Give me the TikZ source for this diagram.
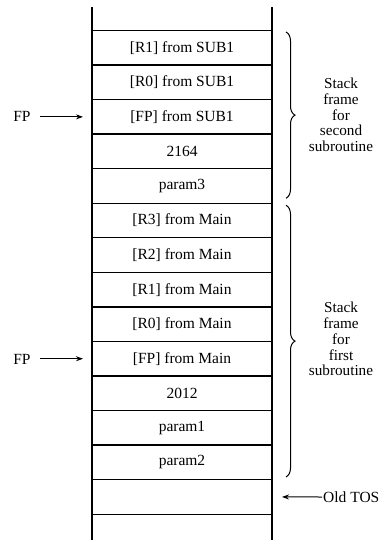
\documentclass[tikz,border=0pt]{standalone}
\usepackage{fontspec}
\setmainfont{Liberation Serif}
\usetikzlibrary{positioning,decorations.pathreplacing,arrows.meta}
\begin{document}
\begin{tikzpicture}[x=1pt,y=-1pt,
  cell/.style={draw, line width=1.4pt, minimum width=180pt, minimum height=34.55pt,
    outer sep=0pt, inner sep=0pt, font=\fontsize{15.5}{16}\selectfont},
  lbl/.style={font=\fontsize{15.5}{16}\selectfont, inner sep=1pt},
  side/.style={line width=1.6pt},
  ptr/.style={line width=1pt, -{Stealth[length=7pt,width=5pt]}},
  brc/.style={decorate, decoration={brace, amplitude=9pt}, line width=1pt},
  note/.style={font=\fontsize{15.2}{15.8}\selectfont, align=center, inner sep=0pt}]
\useasboundingbox (0,0) rectangle (382,540);

\node[cell] (c1) at (182,47.77) {[R1] from SUB1};
\node[cell, below=0pt of c1] (c2) {[R0] from SUB1};
\node[cell, below=0pt of c2] (c3) {[FP] from SUB1};
\node[cell, below=0pt of c3] (c4) {2164};
\node[cell, below=0pt of c4] (c5) {param3};
\node[cell, below=0pt of c5] (c6) {[R3] from Main};
\node[cell, below=0pt of c6] (c7) {[R2] from Main};
\node[cell, below=0pt of c7] (c8) {[R1] from Main};
\node[cell, below=0pt of c8] (c9) {[R0] from Main};
\node[cell, below=0pt of c9] (c10) {[FP] from Main};
\node[cell, below=0pt of c10] (c11) {2012};
\node[cell, below=0pt of c11] (c12) {param1};
\node[cell, below=0pt of c12] (c13) {param2};
\node[cell, below=0pt of c13] (c14) {};

% open ends of the stack
\coordinate (topL) at (92,7);
\coordinate (topR) at (272,7);
\coordinate (botL) at (92,540);
\coordinate (botR) at (272,540);
\draw[side] (c1.north west) -- (topL);
\draw[side] (c1.north east) -- (topR);
\draw[side] (c14.south west) -- (botL);
\draw[side] (c14.south east) -- (botR);

% frame pointers
\node[lbl] (fp1) at (22,116) {FP};
\node[lbl] (fp2) at (22,359) {FP};
\draw[ptr, shorten <=8pt, shorten >=9pt] (fp1.east |- c3.west) -- (c3.west);
\draw[ptr, shorten <=8pt, shorten >=9pt] (fp2.east |- c10.west) -- (c10.west);

% old top of stack
\node[lbl, anchor=west] (otos) at (322,497) {Old TOS};
\draw[ptr, shorten >=10pt] (otos.west) -- (c14.east);

% braces
\coordinate (b1t) at ([xshift=14pt,yshift=-1.5pt]c1.north east);
\coordinate (b1b) at ([xshift=14pt,yshift=5pt]c5.south east);
\coordinate (b2t) at ([xshift=14pt,yshift=-2pt]c6.north east);
\coordinate (b2b) at ([xshift=14pt,yshift=2.7pt]c13.south east);
\draw[brc] (b1t) -- (b1b);
\draw[brc] (b2t) -- (b2b);

\node[note] (n1) at (341,115) {Stack\\frame\\for\\second\\subroutine};
\node[note] (n2) at (341,339) {Stack\\frame\\for\\first\\subroutine};
\end{tikzpicture}
\end{document}
